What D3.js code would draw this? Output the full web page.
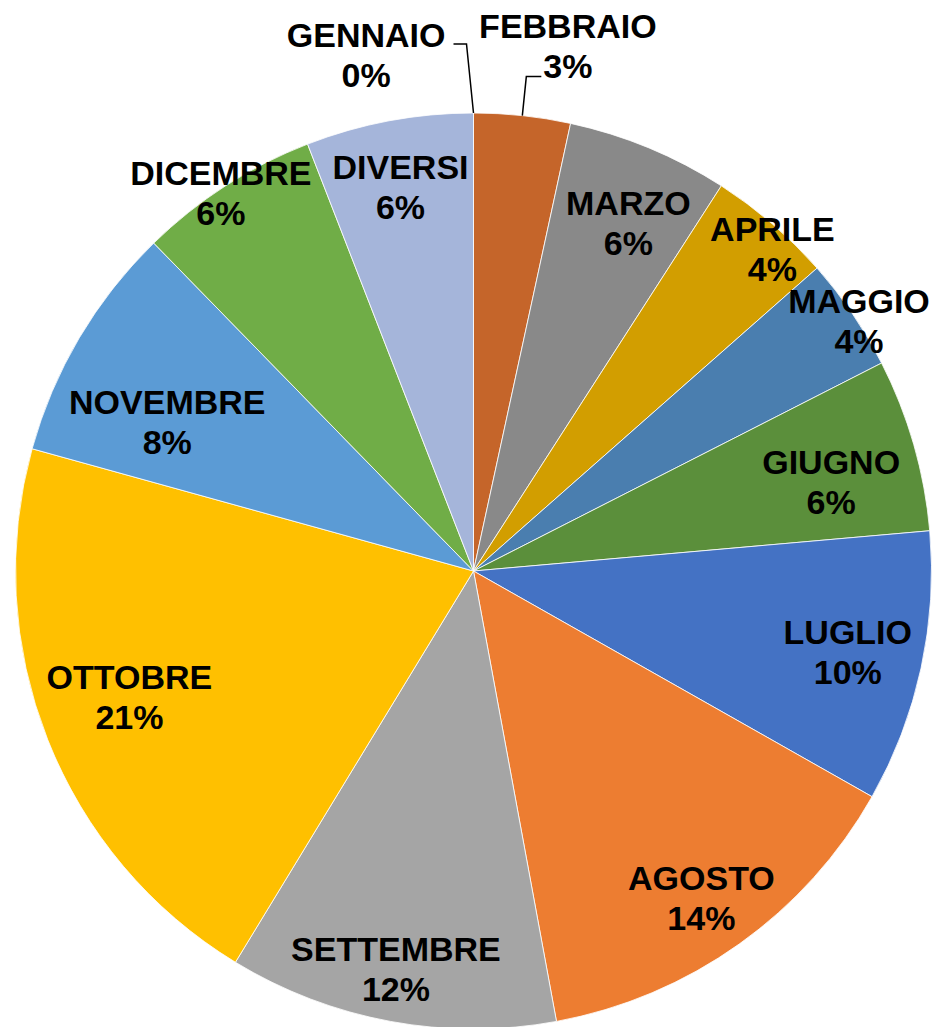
<!DOCTYPE html>
<html>
<head>
<meta charset="utf-8">
<script src="https://cdn.jsdelivr.net/npm/d3@7"></script>
<style>
    body { margin: 0; background: #fff; }
    svg text {
        font-family: "Liberation Sans", Arial, sans-serif;
        font-weight: bold;
        font-size: 34px;
        fill: #000;
    }
</style>
</head>
<body>
<svg id="chart" width="936" height="1027"></svg>
<script>
// data (share of the year, in %)
const months = ["GENNAIO", "FEBBRAIO", "MARZO", "APRILE", "MAGGIO", "GIUGNO", "LUGLIO",
    "AGOSTO", "SETTEMBRE", "OTTOBRE", "NOVEMBRE", "DICEMBRE", "DIVERSI"];
const shares = [0, 3.4, 5.7, 4.4, 4.0, 6.1, 9.6, 13.9, 11.6, 20.6, 8.4, 6.4, 5.9];
const sliceColors = ["#4472C4", "#C5652A", "#898989", "#D29E00", "#4A7EAF", "#5B8F3B", "#4472C4",
    "#ED7D31", "#A5A5A5", "#FFC000", "#5B9BD5", "#70AD47", "#A5B5DA"];

const width = 936, height = 1027;
const cx = 473.5, cy = 571, radius = 458;
const capH = 24.5, lineGap = 40, edgePad = 13;
const firstBase = (lineGap - capH) / 2;

// small hand tweaks so labels land where the original "best fit" put them
const labelNudge = {
    MARZO: [6, 11], APRILE: [3, 22], MAGGIO: [10, 5], GIUGNO: [3, 13],
    AGOSTO: [-3, 3], SETTEMBRE: [-4, -2], OTTOBRE: [-1, -10],
    NOVEMBRE: [-11, 25], DICEMBRE: [-7, 4], DIVERSI: [0, 5]
};

const data = months.map((m, i) => ({ name: m, value: shares[i], color: sliceColors[i] }));
const total = d3.sum(data, d => d.value);

const svg = d3.select("#chart");
const g = svg.append("g").attr("transform", `translate(${cx},${cy})`);

const pie = d3.pie().value(d => d.value).sort(null);
const arc = d3.arc().innerRadius(0).outerRadius(radius);
const arcs = pie(data);

// slices
g.selectAll(".slice")
    .data(arcs)
    .enter()
    .append("path")
    .attr("class", "slice")
    .attr("d", arc)
    .attr("fill", d => d.data.color)
    .attr("stroke", "#fff")
    .attr("stroke-width", 1)
    .attr("stroke-opacity", 0.8);

// measure text widths
const measure = svg.append("text").attr("visibility", "hidden");
function textWidth(s) {
    measure.text(s);
    return measure.node().getComputedTextLength();
}

function pct(d) {
    return Math.round(d.data.value / total * 100) + "%";
}

// boxes of both lines for a label centred at (x, y), relative to the pie centre
function boxes(x, y, w1, w2) {
    const b1 = y - firstBase, b2 = b1 + lineGap;
    return [
        [x - w1 / 2, b1 - capH, x + w1 / 2, b1],
        [x - w2 / 2, b2 - capH, x + w2 / 2, b2]
    ];
}
function corners(bs) {
    const pts = [];
    bs.forEach(b => {
        pts.push([b[0], b[1]], [b[2], b[1]], [b[0], b[3]], [b[2], b[3]]);
    });
    return pts;
}

// callout labels for the tiny slices (leader line offsets)
const callouts = [
    { elbowDx: -7, elbowDy: -69, endDx: -13 },
    { elbowDx: 4, elbowDy: -39, endDx: 15 }
];
let calloutIndex = 0;

const labels = g.append("g");
const leaders = g.append("g");

arcs.forEach(d => {
    const name = d.data.name, p = pct(d);
    const w1 = textWidth(name), w2 = textWidth(p);
    const mid = (d.startAngle + d.endAngle) / 2;
    const share = d.data.value / total * 100;
    let x, y;

    if (share < 3.5) {
        // outside label with leader line
        const c = callouts[calloutIndex++];
        const ax = radius * Math.sin(mid), ay = -radius * Math.cos(mid);
        const ex = ax + c.elbowDx, ey = ay + c.elbowDy;
        const endX = ex + c.endDx;
        if (c.endDx < 0) {
            const wMax = Math.max(w1, w2);
            x = endX - 8 - wMax / 2;
            y = ey + 11;
        } else {
            x = endX + 2 + w2 / 2;
            y = ey + 1 - lineGap + firstBase;
        }
        leaders.append("path")
            .attr("d", d3.line()([[ax, ay], [ex, ey], [endX, ey]]))
            .attr("fill", "none")
            .attr("stroke", "#000")
            .attr("stroke-width", 1.5);
    } else {
        // push the label outward along the bisector until it touches the rim
        let r = radius;
        for (; r > 0; r -= 1) {
            const px = r * Math.sin(mid), py = -r * Math.cos(mid);
            const ok = corners(boxes(px, py, w1, w2))
                .every(q => Math.hypot(q[0], q[1]) <= radius - edgePad);
            if (ok) break;
        }
        x = r * Math.sin(mid);
        y = -r * Math.cos(mid);
        // does it sit inside its own wedge?
        const half = (d.endAngle - d.startAngle) / 2 + 0.015;
        const inside = corners(boxes(x, y, w1, w2)).every(q => {
            let a = Math.atan2(q[0], -q[1]) - mid;
            a = Math.atan2(Math.sin(a), Math.cos(a));
            return Math.abs(a) <= half;
        });
        if (!inside) {
            x = (radius - 4) * Math.sin(mid);
            y = -(radius - 4) * Math.cos(mid);
        }
        const n = labelNudge[name] || [0, 0];
        x += n[0];
        y += n[1];
    }

    const t = labels.append("text").attr("text-anchor", "middle");
    t.append("tspan").attr("x", x).attr("y", y - firstBase).text(name);
    t.append("tspan").attr("x", x).attr("y", y - firstBase + lineGap).text(p);
});

measure.remove();
</script>
</body>
</html>
